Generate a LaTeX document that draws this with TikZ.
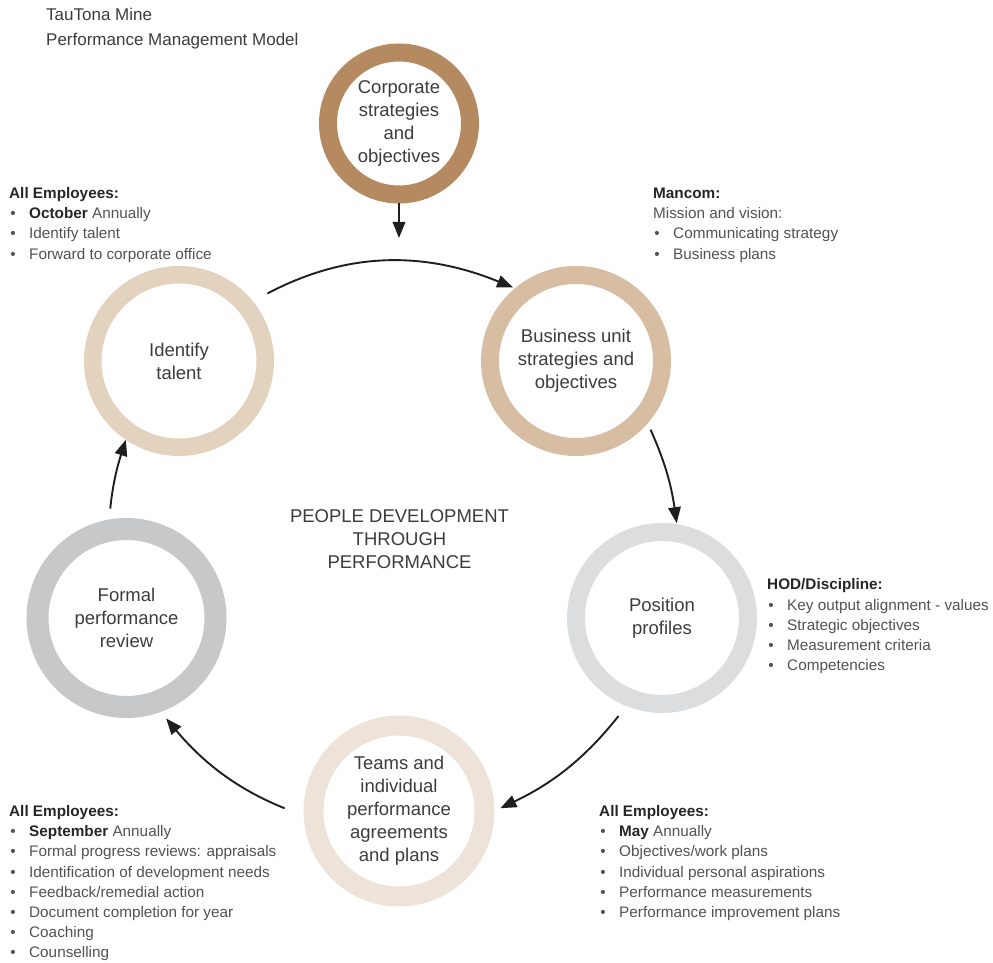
\documentclass[tikz,border=0pt]{standalone}
\usepackage{fontspec}
\setmainfont{Liberation Sans}
\usetikzlibrary{arrows.meta}

% ring colours of the cycle
\definecolor{ringcorp}{HTML}{B58A60}
\definecolor{ringbus}{HTML}{D7BEA2}
\definecolor{ringidt}{HTML}{E3D2BD}
\definecolor{ringpos}{HTML}{DCDDDF}
\definecolor{ringteam}{HTML}{EDE3D8}
\definecolor{ringrev}{HTML}{C7C8CA}
% text and connector colours
\definecolor{bodytext}{HTML}{525252}
\definecolor{headtext}{HTML}{262626}
\definecolor{labeltext}{HTML}{3C3C3C}
\definecolor{arrowcol}{HTML}{1E1E1E}

\newcommand{\bul}{\makebox[20pt][l]{\hspace{1.1pt}\textbullet}}
\newcommand{\hd}[1]{{\bfseries\color{headtext}#1}}

\begin{document}
\begin{tikzpicture}[x=1pt,y=1pt,
  ring/.style={circle, inner sep=0pt, align=center, text=labeltext,
    font=\fontsize{18.5}{23}\selectfont},
  flow/.style={draw=arrowcol, line width=1.9pt,
    -{Triangle[length=16pt,width=12.5pt]}},
  notes/.style={anchor=base west, inner sep=0pt, text=bodytext,
    font=\fontsize{15.3}{20.2}\selectfont}]
\useasboundingbox (0,0) rectangle (993,962);

% title
\node[anchor=base west, inner sep=0pt, text=headtext!90,
  font=\fontsize{17}{24.7}\selectfont] (title) at (46,941)
  {\begin{tabular}[t]{@{}l@{}}TauTona Mine\\Performance Management Model\end{tabular}};

% the cycle of rings
\node[ring, draw=ringcorp, line width=18pt, minimum size=142pt] (corp) at (399,838.5)
  {Corporate\\strategies\\and\\objectives};
\node[ring, draw=ringbus, line width=18pt, minimum size=172pt] (bus) at (576,601)
  {Business unit\\strategies and\\objectives};
\node[ring, draw=ringpos, line width=18pt, minimum size=172pt] (pos) at (662,344)
  {Position\\profiles};
\node[ring, draw=ringteam, line width=20pt, minimum size=171pt] (teams) at (399,151)
  {Teams and\\individual\\performance\\agreements\\and plans};
\node[ring, draw=ringrev, line width=22pt, minimum size=178pt] (rev) at (126.5,344)
  {Formal\\performance\\review};
\node[ring, draw=ringidt, line width=17.5pt, minimum size=172.5pt] (idt) at (179,601)
  {Identify\\talent};

% centre caption
\node[anchor=base, inner sep=0pt, text=labeltext,
  font=\fontsize{18.5}{22.8}\selectfont] (motto) at (399.5,439.3)
  {\begin{tabular}[t]{@{}c@{}}PEOPLE DEVELOPMENT\\THROUGH\\PERFORMANCE\end{tabular}};

% connectors
\coordinate (drop) at (399,724);
\draw[flow] (corp.south) -- (drop);
\draw[flow, shorten <=16.5pt, shorten >=2pt] (idt.39.5) to[bend left=25] (bus.130.4);
\draw[flow, shorten <=7pt, shorten >=1pt] (bus.-41) to[bend left=8] (pos.81);
\draw[flow, shorten <=12.7pt, shorten >=6.5pt] (pos.248) to[bend left=13] (teams.-0.6);
\draw[flow, shorten <=20.5pt, shorten >=8.5pt] (teams.183) to[bend left=14] (rev.-70.5);
\draw[flow, shorten <=11pt] (rev.100.6) to[bend left=6] (idt.236);

% notes beside each stage
\node[notes] (noteidt) at (9,763.5) {\begin{tabular}[t]{@{}l@{}}
  \hd{All Employees:}\\
  \bul\hd{October} Annually\\
  \bul Identify talent\\
  \bul Forward to corporate office\end{tabular}};

\node[notes] (notebus) at (653,763.5) {\begin{tabular}[t]{@{}l@{}}
  \hd{Mancom:}\\
  Mission and vision:\\
  \bul Communicating strategy\\
  \bul Business plans\end{tabular}};

\node[notes] (notepos) at (767,372) {\begin{tabular}[t]{@{}l@{}}
  \hd{HOD/Discipline:}\\
  \bul Key output alignment - values\\
  \bul Strategic objectives\\
  \bul Measurement criteria\\
  \bul Competencies\end{tabular}};

\node[notes] (noteteam) at (599,145.5) {\begin{tabular}[t]{@{}l@{}}
  \hd{All Employees:}\\
  \bul\hd{May} Annually\\
  \bul Objectives/work plans\\
  \bul Individual personal aspirations\\
  \bul Performance measurements\\
  \bul Performance improvement plans\end{tabular}};

\node[notes] (noterev) at (9,145.5) {\begin{tabular}[t]{@{}l@{}}
  \hd{All Employees:}\\
  \bul\hd{September} Annually\\
  \bul Formal progress reviews: appraisals\\
  \bul Identification of development needs\\
  \bul Feedback/remedial action\\
  \bul Document completion for year\\
  \bul Coaching\\
  \bul Counselling\end{tabular}};
\end{tikzpicture}
\end{document}
